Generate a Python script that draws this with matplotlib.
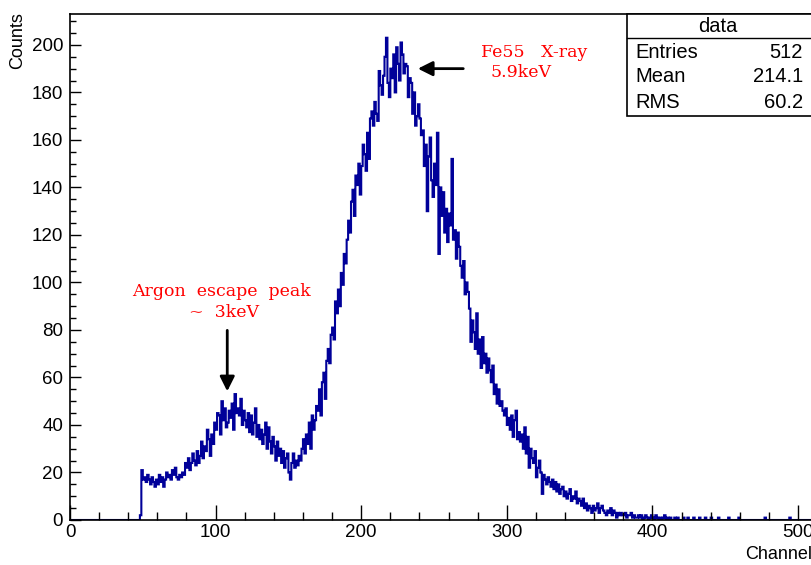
import numpy as np
import matplotlib
matplotlib.use('Agg')
import matplotlib.pyplot as plt
from matplotlib.ticker import MultipleLocator

# histogram contents, one bin per channel (0..511)
counts_low = [0] * 48 + [2]
counts_49_99 = [21,
  17, 18, 16, 19, 17, 15, 18, 16, 14, 17,
  15, 19, 16, 18, 14, 17, 20, 18, 19, 17,
  21, 19, 22, 18, 17, 19, 18, 20, 19, 24,
  22, 26, 21, 24, 28, 25, 23, 29, 24, 27,
  33, 26, 31, 29, 38, 34, 27, 36, 32, 41]
counts_100_199 = [
  38, 45, 44, 36, 50, 42, 47, 39, 41, 46,
  43, 49, 38, 53, 45, 47, 44, 51, 40, 46,
  42, 39, 45, 37, 44, 36, 41, 47, 35, 40,
  34, 38, 32, 36, 41, 30, 39, 33, 28, 35,
  31, 25, 33, 27, 30, 24, 29, 22, 26, 28,
  20, 17, 24, 28, 22, 25, 23, 27, 25, 30,
  34, 28, 36, 32, 41, 30, 44, 38, 42, 48,
  46, 55, 44, 58, 62, 51, 67, 72, 66, 78,
  81, 76, 92, 87, 97, 90, 104, 99, 112, 108,
  118, 126, 121, 134, 139, 128, 145, 141, 150, 137]
counts_200_299 = [
  149, 158, 154, 147, 163, 152, 169, 172, 166, 176,
  171, 168, 189, 183, 179, 187, 195, 203, 184, 178,
  190, 186, 196, 180, 199, 192, 185, 201, 196, 188,
  192, 191, 178, 186, 184, 171, 180, 166, 170, 175,
  169, 162, 164, 149, 158, 130, 153, 161, 143, 136,
  150, 141, 163, 112, 140, 128, 138, 121, 131, 117,
  129, 124, 152, 118, 122, 110, 121, 115, 107, 102,
  109, 95, 100, 96, 89, 75, 84, 79, 72, 87,
  70, 76, 64, 77, 66, 70, 62, 68, 63, 58,
  65, 53, 57, 49, 55, 48, 50, 46, 44, 47]
counts_300_399 = [
  40, 43, 38, 44, 35, 42, 46, 34, 37, 33,
  36, 30, 39, 28, 35, 22, 30, 26, 24, 29,
  18, 22, 25, 20, 11, 19, 17, 15, 18, 16,
  14, 17, 13, 16, 12, 15, 11, 13, 14, 10,
  12, 9, 11, 13, 8, 10, 9, 12, 7, 9,
  8, 6, 9, 5, 7, 4, 6, 5, 3, 6,
  4, 5, 7, 3, 5, 6, 4, 3, 2, 4,
  3, 5, 2, 4, 3, 1, 3, 2, 3, 2,
  2, 3, 1, 2, 2, 3, 1, 2, 1, 1,
  2, 1, 2, 0, 1, 2, 1, 0, 1, 2]
counts_400_511 = [
  1, 0, 2, 1, 0, 1, 0, 1, 2, 0,
  1, 0, 1, 0, 0, 1, 0, 1, 0, 0,
  0, 1, 0, 0, 1, 0, 0, 0, 1, 0,
  0, 0, 1, 0, 0, 0, 1, 0, 0, 0,
  1, 0, 0, 0, 0, 1, 0, 0, 0, 0,
  0, 0, 1, 0, 0, 0, 0, 0, 0, 1,
  0, 0, 0, 0, 0, 0, 0, 0, 0, 0,
  0, 0, 0, 0, 0, 0, 0, 1, 0, 0,
  0, 0, 0, 0, 0, 0, 0, 0, 0, 0,
  0, 0, 0, 0, 1, 0, 0, 0, 0, 0,
  0, 0, 0, 0, 0, 0, 0, 0, 0, 0, 0, 0]

counts = np.array(counts_low + counts_49_99 + counts_100_199 + counts_200_299
                  + counts_300_399 + counts_400_511, dtype=float)
edges = np.arange(len(counts) + 1)

stat_names = ['Entries', 'Mean', 'RMS']
stat_values = ['512', '214.1', '60.2']

plt.rcParams['font.family'] = ['Liberation Sans', 'DejaVu Sans']

fig = plt.figure(figsize=(8.12, 5.65), dpi=100)
ax = fig.add_axes([70/812, 45/565, 745.5/812, 506/565])

ax.stairs(counts, edges, color='#000099', linewidth=1.5, baseline=0)

ax.set_xlim(0, 512)
ax.set_ylim(0, 213)
ax.xaxis.set_major_locator(MultipleLocator(100))
ax.xaxis.set_minor_locator(MultipleLocator(20))
ax.yaxis.set_major_locator(MultipleLocator(20))
ax.yaxis.set_minor_locator(MultipleLocator(5))
ax.tick_params(axis='x', which='major', direction='in', length=11, width=1, labelsize=13.5, pad=3)
ax.tick_params(axis='x', which='minor', direction='in', length=5.5, width=1)
ax.tick_params(axis='y', which='major', direction='in', length=8, width=1, labelsize=13.5, pad=5)
ax.tick_params(axis='y', which='minor', direction='in', length=4, width=1)
for s in ax.spines.values():
    s.set_linewidth(1.2)

fig.text(18/812, 1 - 12/565, 'Counts', rotation=90, ha='center', va='top', fontsize=13)
fig.text(1.0, 2/565, 'Channel', ha='right', va='bottom', fontsize=13)

# stats box
bx0, bx1 = 627/812, 1.0
by0, by1 = 1 - 116/565, 1 - 14/565
fig.patches.append(plt.Rectangle((bx0, by0), bx1 - bx0, by1 - by0, transform=fig.transFigure,
                                 facecolor='white', edgecolor='black', linewidth=1.2, zorder=5))
fig.add_artist(plt.Line2D([bx0, bx1], [1 - 38/565, 1 - 38/565], color='black', lw=1, zorder=6))
fig.text((bx0 + bx1) / 2 - 0.002, 1 - 26/565, 'data', ha='center', va='center', fontsize=14.5, zorder=7)
for i, (n, v) in enumerate(zip(stat_names, stat_values)):
    yy = 1 - (52 + i * 25) / 565
    fig.text(635/812, yy, n, ha='left', va='center', fontsize=14.5, zorder=7)
    fig.text(803/812, yy, v, ha='right', va='center', fontsize=14.5, zorder=7)

# annotations
ann_font = dict(color='red', fontsize=12.5, family='DejaVu Serif', ha='center', va='center')
ax.text(104, 96, 'Argon  escape  peak', **ann_font)
ax.text(106, 87.5, '~  3keV', **ann_font)
ax.annotate('', xy=(108, 53), xytext=(108, 81),
            arrowprops=dict(arrowstyle='-|>', color='black', lw=2, mutation_scale=22))
ax.text(319, 197, 'Fe55   X-ray', **ann_font)
ax.text(310, 188.5, '5.9keV', **ann_font)
ax.annotate('', xy=(237, 190), xytext=(272, 190),
            arrowprops=dict(arrowstyle='-|>', color='black', lw=2, mutation_scale=22))

fig.savefig('out.png', dpi=100)
